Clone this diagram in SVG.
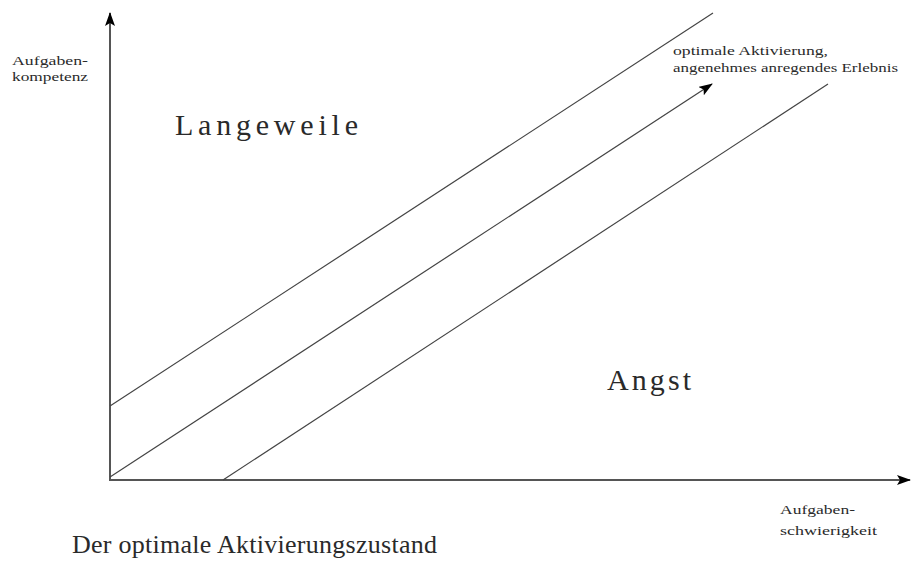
<svg xmlns="http://www.w3.org/2000/svg" width="912" height="565" viewBox="0 0 912 565">
<defs>
<style>
.ax{stroke:#555;stroke-width:2;fill:none}
.ln{stroke:#444;stroke-width:1.2;fill:none}
text{font-family:"Liberation Serif","DejaVu Serif",serif;fill:#2a2a2a}
.s{font-size:13px}
.b{font-size:30px}
.t{font-size:26px}
</style>
<marker id="ah" markerWidth="14" markerHeight="10" refX="13" refY="5" orient="auto" markerUnits="userSpaceOnUse">
<path d="M0,0 L14,5 L0,10 L3,5 Z" fill="#000"/>
</marker>
</defs>
<rect width="912" height="565" fill="#fff"/>
<g id="axes">
<line class="ax" x1="110" y1="480" x2="110" y2="13" marker-end="url(#ah)"/>
<line class="ax" x1="109" y1="480" x2="910" y2="480" marker-end="url(#ah)"/>
</g>
<g id="connectors">
<line class="ln" x1="110" y1="406" x2="713" y2="13"/>
<line class="ln" x1="110" y1="477" x2="712" y2="84" marker-end="url(#ah)"/>
<line class="ln" x1="223" y1="480" x2="828" y2="84"/>
</g>
<g id="labels">
<text class="s" x="12" y="65" textLength="76" lengthAdjust="spacingAndGlyphs">Aufgaben-</text>
<text class="s" x="12" y="81" textLength="76" lengthAdjust="spacingAndGlyphs">kompetenz</text>
<text class="s" x="780" y="514" textLength="75" lengthAdjust="spacingAndGlyphs">Aufgaben-</text>
<text class="s" x="780" y="535" textLength="97" lengthAdjust="spacingAndGlyphs">schwierigkeit</text>
<text class="s" x="673" y="55" textLength="155" lengthAdjust="spacingAndGlyphs">optimale Aktivierung,</text>
<text class="s" x="673" y="72" textLength="225" lengthAdjust="spacingAndGlyphs">angenehmes anregendes Erlebnis</text>
<text class="b" x="175" y="135" textLength="183" lengthAdjust="spacing">Langeweile</text>
<text class="b" x="607" y="390" textLength="84" lengthAdjust="spacing">Angst</text>
<text class="t" x="72" y="553" textLength="365" lengthAdjust="spacing">Der optimale Aktivierungszustand</text>
</g>
</svg>
